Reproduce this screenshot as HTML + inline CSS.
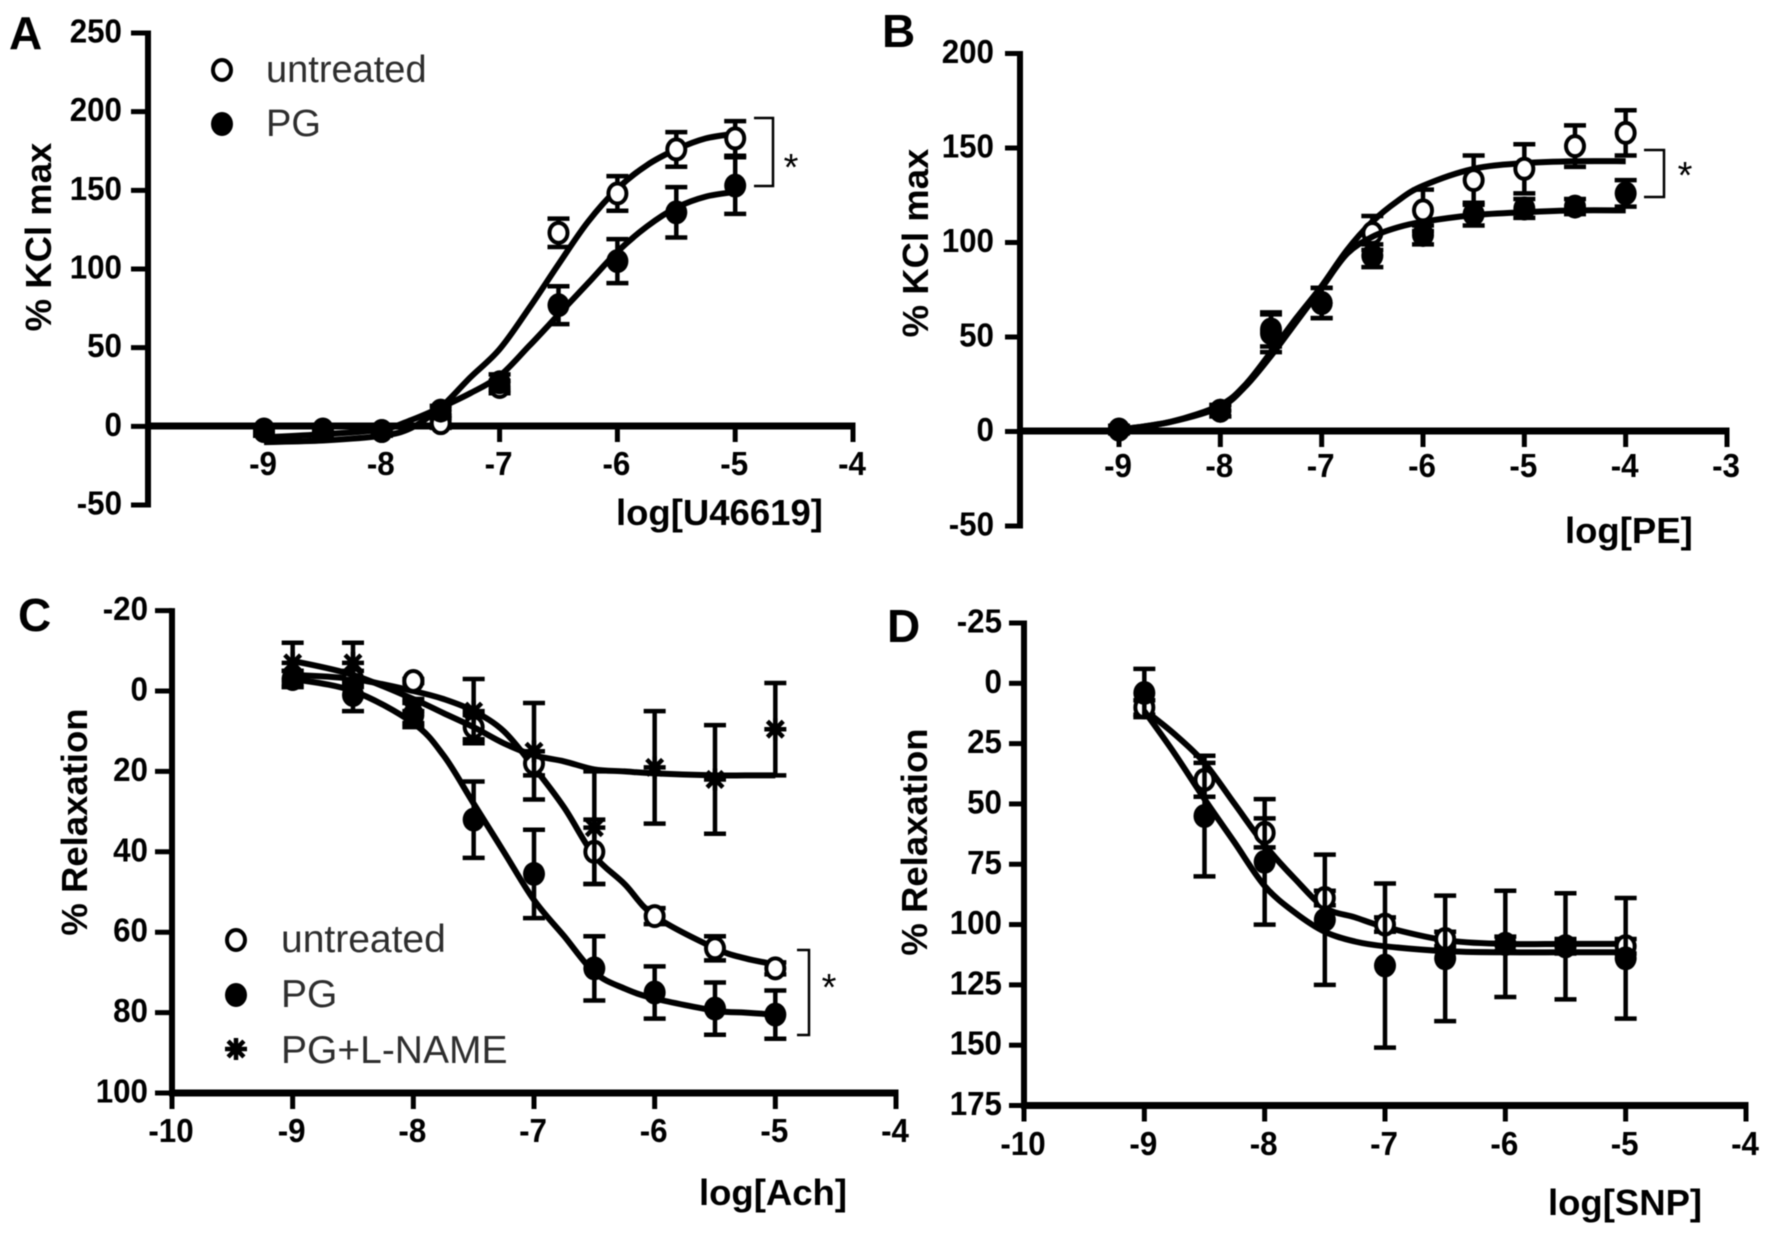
<!DOCTYPE html>
<html lang="en">
<head>
<meta charset="utf-8">
<title>Concentration-response curves</title>
<style>
html,body{margin:0;padding:0;background:#fff;}
svg{display:block;filter:blur(0.65px);}
text{font-family:"Liberation Sans",sans-serif;fill:#000;}
.tick{font-size:33px;font-weight:700;}
.title{font-size:36.5px;font-weight:700;}
.letter{font-size:46px;font-weight:700;}
.legend{font-size:38px;fill:#2e2e2e;}
.legend-c{font-size:39px;fill:#2e2e2e;}
.sig{font-size:38px;}
</style>
</head>
<body>
<svg id="figure" xmlns="http://www.w3.org/2000/svg" width="1772" height="1237" viewBox="0 0 1772 1237">
  <rect width="1772" height="1237" fill="#fff"/>

  <g id="panelA">
    <text class="letter" x="9" y="49">A</text>
    <text class="title" transform="translate(51,237) rotate(-90)" text-anchor="middle">% KCl max</text>
    <text class="title" x="616" y="525">log[U46619]</text>
    <text class="legend" x="266" y="82">untreated</text>
    <text class="legend" x="266" y="136">PG</text>
    <path d="M754 118H773V186H754" fill="none" stroke="#000" stroke-width="2.5"/>
    <text class="sig" x="791" y="180" text-anchor="middle">*</text>
  </g>

  <g id="panelB">
    <text class="letter" x="882" y="47">B</text>
    <text class="title" transform="translate(928,243) rotate(-90)" text-anchor="middle">% KCl max</text>
    <text class="title" x="1565" y="543">log[PE]</text>
    <path d="M1644 150H1664V197H1644" fill="none" stroke="#000" stroke-width="2.5"/>
    <text class="sig" x="1685" y="188" text-anchor="middle">*</text>
  </g>

  <g id="panelC">
    <text class="letter" x="18" y="631">C</text>
    <text class="title" transform="translate(87,822) rotate(-90)" text-anchor="middle">% Relaxation</text>
    <text class="title" x="699" y="1205">log[Ach]</text>
    <text class="legend-c" x="281" y="952">untreated</text>
    <text class="legend-c" x="281" y="1007">PG</text>
    <text class="legend-c" x="281" y="1063">PG+L-NAME</text>
    <path d="M797 950H809V1035H797" fill="none" stroke="#000" stroke-width="2.5"/>
    <text class="sig" x="829" y="1000" text-anchor="middle">*</text>
  </g>

  <g id="panelD">
    <text class="letter" x="887" y="642">D</text>
    <text class="title" transform="translate(927,842) rotate(-90)" text-anchor="middle">% Relaxation</text>
    <text class="title" x="1548" y="1215">log[SNP]</text>
  </g>

  <g id="legendMarks"></g>
</svg>

<script>
// ---------- Panel A ----------
const aXTicks = [-9, -8, -7, -6, -5, -4];
const aYTicks = [250, 200, 150, 100, 50, 0, -50];
const aDoses = [-9, -8.5, -8, -7.5, -7, -6.5, -6, -5.5, -5];
const aUntreatedMeans = [-3, -3, -3, 2, 25, 123, 148, 176, 183];
const aUntreatedErrors = [3, 3, 3, 3, 4, 9, 11, 11, 11];
const aPgMeans = [-2, -2, -3, 10, 28, 77, 105, 136, 153];
const aPgErrors = [3, 3, 3, 3, 5, 12, 14, 16, 18];
const aCurveDoses = [-9, -8.5, -8, -7.75, -7.5, -7.25, -7, -6.75, -6.5, -6.25, -6, -5.75, -5.5, -5.25, -5];
const aUntreatedCurve = [-10, -9, -6, -1, 12, 31, 49, 75, 103, 130, 151, 166, 176, 183, 186];
const aPgCurve = [-7, -5, -2, 4, 12, 21, 32, 51, 71, 91, 111, 127, 139, 146, 149];

// ---------- Panel B ----------
const bXTicks = [-9, -8, -7, -6, -5, -4, -3];
const bYTicks = [200, 150, 100, 50, 0, -50];
const bDoses = [-9, -8, -7.5, -7, -6.5, -6, -5.5, -5, -4.5, -4];
const bUntreatedMeans = [1, 11, 52, 68, 105, 117, 133, 139, 151, 158];
const bUntreatedErrors = [2, 3, 10, 8, 9, 11, 13, 13, 11, 12];
const bPgMeans = [1, 11, 54, 68, 93, 104, 115, 118, 119, 126];
const bPgErrors = [2, 3, 9, 8, 6, 5, 6, 5, 4, 7];
const bCurveDoses = [-9, -8.5, -8, -7.75, -7.5, -7.25, -7, -6.75, -6.5, -6.25, -6, -5.5, -5, -4.5, -4];
const bUntreatedCurve = [1, 5, 14, 25, 42, 60, 77, 96, 111, 122, 130, 139, 142, 143, 143];
const bPgCurve = [1, 5, 13, 24, 40, 58, 76, 94, 103, 108, 111, 114.5, 116, 117, 117];

// ---------- Panel C ----------
const cXTicks = [-10, -9, -8, -7, -6, -5, -4];
const cYTicks = [-20, 0, 20, 40, 60, 80, 100];
const cDoses = [-9, -8.5, -8, -7.5, -7, -6.5, -6, -5.5, -5];
const cUntreatedMeans = [-3, -3, -2.5, 9, 18, 40, 56, 64, 69];
const cUntreatedErrors = [2, 2, 0.5, 3, 3, 8, 2, 3, 1.5];
const cPgMeans = [-3, 1, 6, 32, 45.5, 69, 75, 79, 80.5];
const cPgErrors = [2, 4, 3, 9.5, 11, 8, 6.5, 6.5, 6];
const cNameMeans = [-7, -7, 5, 5, 15, 34, 19, 22, 9.5];
const cNameErrors = [5, 5, 3, 8, 12, 14, 14, 13.5, 11.5];
const cCurveDoses = [-9, -8.5, -8, -7.75, -7.5, -7.25, -7, -6.75, -6.5, -6.25, -6, -5.5, -5.25, -5];
const cUntreatedCurve = [-4, -3, 0, 2, 5, 10, 19, 29, 41, 48, 56, 64, 66.5, 68];
const cPgCurve = [-3, 0, 8, 16, 28, 40, 52, 61, 70, 74, 76.5, 79.5, 80, 80.5];
const cNameCurve = [-7.5, -4, 2, 5.5, 9, 13, 16, 17.5, 19.5, 20, 20.5, 21, 21, 21];

// ---------- Panel D ----------
const dXTicks = [-10, -9, -8, -7, -6, -5, -4];
const dYTicks = [-25, 0, 25, 50, 75, 100, 125, 150, 175];
const dDoses = [-9, -8.5, -8, -7.5, -7, -6.5, -6, -5.5, -5];
const dUntreatedMeans = [10, 40, 62, 89, 100, 106, 108, 109, 109];
const dUntreatedErrors = [3, 7, 6, 3, 3, 3, 3, 3, 3];
const dPgMeans = [4, 55, 74, 98, 117, 114, 108, 109, 114];
const dPgErrors = [10, 25, 26, 27, 34, 26, 22, 22, 25];
const dCurveDoses = [-9, -8.75, -8.5, -8.25, -8, -7.75, -7.5, -7.25, -7, -6.5, -6, -5.5, -5];
const dUntreatedCurve = [11, 21, 33, 50, 67, 81, 93, 97, 101, 106.5, 108, 108, 108];
const dPgCurve = [11.5, 29, 48, 66, 84, 95, 103, 107, 109, 111, 111.5, 111.5, 111.5];

const NS = 'http://www.w3.org/2000/svg';

function make(tag, attrs, parent) {
  const el = document.createElementNS(NS, tag);
  for (const k in attrs) el.setAttribute(k, attrs[k]);
  parent.appendChild(el);
  return el;
}

function linearScale(d0, r0, d1, r1) {
  return function (v) { return r0 + (v - d0) * (r1 - r0) / (d1 - d0); };
}

function smoothPath(xs, ys) {
  let d = 'M' + xs[0].toFixed(1) + ' ' + ys[0].toFixed(1);
  for (let i = 0; i < xs.length - 1; i++) {
    const p0 = Math.max(i - 1, 0), p3 = Math.min(i + 2, xs.length - 1);
    const c1x = xs[i] + (xs[i + 1] - xs[p0]) / 6;
    const c1y = ys[i] + (ys[i + 1] - ys[p0]) / 6;
    const c2x = xs[i + 1] - (xs[p3] - xs[i]) / 6;
    const c2y = ys[i + 1] - (ys[p3] - ys[i]) / 6;
    d += 'C' + c1x.toFixed(1) + ' ' + c1y.toFixed(1) + ' ' + c2x.toFixed(1) + ' ' + c2y.toFixed(1) + ' ' + xs[i + 1].toFixed(1) + ' ' + ys[i + 1].toFixed(1);
  }
  return d;
}

function drawMarker(parent, kind, cx, cy, prefix) {
  let el;
  if (kind === 'open') {
    el = make('ellipse', { cx: cx, cy: cy, rx: 9, ry: 10, fill: '#fff', stroke: '#000', 'stroke-width': 4 }, parent);
  } else if (kind === 'filled') {
    el = make('ellipse', { cx: cx, cy: cy, rx: 11, ry: 12, fill: '#000' }, parent);
  } else {
    const r = 11;
    const d = 'M' + (cx - r) + ' ' + cy + 'H' + (cx + r) +
      'M' + cx + ' ' + (cy - r) + 'V' + (cy + r) +
      'M' + (cx - r * 0.72) + ' ' + (cy - r * 0.72) + 'L' + (cx + r * 0.72) + ' ' + (cy + r * 0.72) +
      'M' + (cx - r * 0.72) + ' ' + (cy + r * 0.72) + 'L' + (cx + r * 0.72) + ' ' + (cy - r * 0.72);
    el = make('path', { d: d, fill: 'none', stroke: '#000', 'stroke-width': 4.5 }, parent);
  }
  
  
}

function drawAxes(g, name, p) {
  const yAxis = make('line', { x1: p.yAxisX, x2: p.yAxisX, y1: p.y(p.yTicks[0]) - 2.5, y2: p.y(p.yTicks[p.yTicks.length - 1]) + 2.5, stroke: '#000', 'stroke-width': 6 }, g);
  
  

  const xAxis = make('line', { x1: p.yAxisX - 3, x2: p.x(p.xTicks[p.xTicks.length - 1]) + 2.5, y1: p.xAxisY, y2: p.xAxisY, stroke: '#000', 'stroke-width': 7 }, g);
  
  

  p.yTicks.forEach(function (v) {
    const yy = p.y(v);
    const t = make('line', { x1: p.yAxisX - p.tickLen, x2: p.yAxisX, y1: yy, y2: yy, stroke: '#000', 'stroke-width': 5 }, g);
    
    
    const lab = make('text', { class: 'tick', transform: 'translate(' + p.yLabelX + ',' + (yy + 9.5) + ') scale(0.95,1)', 'text-anchor': 'end' }, g);
    lab.textContent = String(v);
    
    
  });

  p.xTicks.forEach(function (v) {
    const xx = p.x(v);
    const t = make('line', { x1: xx, x2: xx, y1: p.xAxisY, y2: p.xAxisY + 16, stroke: '#000', 'stroke-width': 5 }, g);
    
    
    const lab = make('text', { class: 'tick', transform: 'translate(' + (xx - 1) + ',' + p.xLabelY + ') scale(0.95,1)', 'text-anchor': 'middle' }, g);
    lab.textContent = String(v);
    
    
  });
}

function drawSeries(g, name, p, s) {
  const prefix = name + '-' + s.key;
  const errs = make('g', {}, g);
  
  
  s.doses.forEach(function (dose, i) {
    const xx = p.x(dose);
    const top = p.y(s.means[i] - s.errors[i] * p.dir);
    const bot = p.y(s.means[i] + s.errors[i] * p.dir);
    const d = 'M' + xx + ' ' + top + 'V' + bot + 'M' + (xx - 11) + ' ' + top + 'H' + (xx + 11) + 'M' + (xx - 11) + ' ' + bot + 'H' + (xx + 11);
    const bar = make('path', { d: d, fill: 'none', stroke: '#000', 'stroke-width': 4.5 }, errs);
    
    
  });

  const curve = make('path', {
    d: smoothPath(s.curveDoses.map(p.x), s.curve.map(p.y)),
    fill: 'none', stroke: '#000', 'stroke-width': 6, 'stroke-linejoin': 'round'
  }, g);
  
  

  s.doses.forEach(function (dose, i) {
    drawMarker(g, s.kind, p.x(dose), p.y(s.means[i]), prefix);
  });
}

function drawPanel(id, name, p, seriesList) {
  const g = document.getElementById(id);
  drawAxes(g, name, p);
  seriesList.forEach(function (s) { drawSeries(g, name, p, s); });
}

drawPanel('panelA', 'panel-a', {
  x: linearScale(-9, 264, -4, 853), y: linearScale(250, 33, -50, 505),
  xTicks: aXTicks, yTicks: aYTicks, yAxisX: 148, xAxisY: 426, tickLen: 17, yLabelX: 122, xLabelY: 475, dir: 1
}, [
  { key: 'untreated', kind: 'open', doses: aDoses, means: aUntreatedMeans, errors: aUntreatedErrors, curveDoses: aCurveDoses, curve: aUntreatedCurve },
  { key: 'pg', kind: 'filled', doses: aDoses, means: aPgMeans, errors: aPgErrors, curveDoses: aCurveDoses, curve: aPgCurve }
]);

drawPanel('panelB', 'panel-b', {
  x: linearScale(-9, 1119, -3, 1727), y: linearScale(200, 53.5, -50, 526),
  xTicks: bXTicks, yTicks: bYTicks, yAxisX: 1020, xAxisY: 431, tickLen: 15, yLabelX: 994, xLabelY: 477, dir: 1
}, [
  { key: 'untreated', kind: 'open', doses: bDoses, means: bUntreatedMeans, errors: bUntreatedErrors, curveDoses: bCurveDoses, curve: bUntreatedCurve },
  { key: 'pg', kind: 'filled', doses: bDoses, means: bPgMeans, errors: bPgErrors, curveDoses: bCurveDoses, curve: bPgCurve }
]);

drawPanel('panelC', 'panel-c', {
  x: linearScale(-10, 172, -4, 896), y: linearScale(-20, 610.6, 100, 1093),
  xTicks: cXTicks, yTicks: cYTicks, yAxisX: 172, xAxisY: 1093, tickLen: 17, yLabelX: 148, xLabelY: 1142, dir: 1
}, [
  { key: 'untreated', kind: 'open', doses: cDoses, means: cUntreatedMeans, errors: cUntreatedErrors, curveDoses: cCurveDoses, curve: cUntreatedCurve },
  { key: 'pg-l-name', kind: 'star', doses: cDoses, means: cNameMeans, errors: cNameErrors, curveDoses: cCurveDoses, curve: cNameCurve },
  { key: 'pg', kind: 'filled', doses: cDoses, means: cPgMeans, errors: cPgErrors, curveDoses: cCurveDoses, curve: cPgCurve }
]);

drawPanel('panelD', 'panel-d', {
  x: linearScale(-10, 1024, -4, 1746), y: linearScale(-25, 623, 175, 1105.5),
  xTicks: dXTicks, yTicks: dYTicks, yAxisX: 1024, xAxisY: 1105.5, tickLen: 15, yLabelX: 1002, xLabelY: 1155, dir: 1
}, [
  { key: 'untreated', kind: 'open', doses: dDoses, means: dUntreatedMeans, errors: dUntreatedErrors, curveDoses: dCurveDoses, curve: dUntreatedCurve },
  { key: 'pg', kind: 'filled', doses: dDoses, means: dPgMeans, errors: dPgErrors, curveDoses: dCurveDoses, curve: dPgCurve }
]);

const lg = document.getElementById('legendMarks');
drawMarker(lg, 'open', 222, 70, 'panel-a-legend-untreated');
drawMarker(lg, 'filled', 222, 124, 'panel-a-legend-pg');
drawMarker(lg, 'open', 236, 940, 'panel-c-legend-untreated');
drawMarker(lg, 'filled', 236, 995, 'panel-c-legend-pg');
drawMarker(lg, 'star', 236, 1049, 'panel-c-legend-pg-l-name');
</script>
</body>
</html>
